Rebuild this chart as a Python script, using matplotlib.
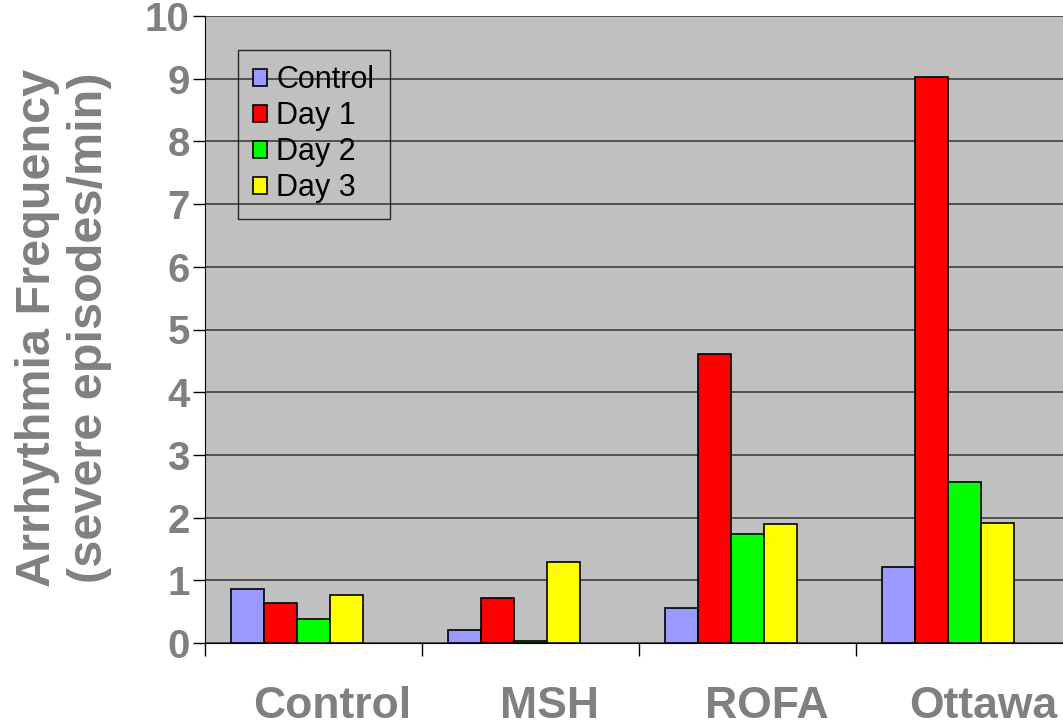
import matplotlib
matplotlib.use("Agg")
import matplotlib.pyplot as plt
import matplotlib.transforms as mtransforms
import numpy as np

categories = ["Control", "MSH", "ROFA", "Ottawa"]
series_names = ["Control", "Day 1", "Day 2", "Day 3"]
control_vals = [0.86, 0.20, 0.56, 1.21]
day1_vals = [0.64, 0.72, 4.61, 9.03]
day2_vals = [0.38, 0.03, 1.74, 2.57]
day3_vals = [0.77, 1.29, 1.89, 1.92]
series_vals = [control_vals, day1_vals, day2_vals, day3_vals]
colors = ["#9999FF", "#FF0000", "#00FF00", "#FFFF00"]
yticks = list(range(0, 11))

plt.rcParams["font.family"] = ["Liberation Sans", "DejaVu Sans"]

W, H = 1063, 725
fig = plt.figure(figsize=(W / 100, H / 100), dpi=100)
ax = fig.add_axes([205 / W, (H - 643) / H, 868 / W, 627 / H])
ax.set_facecolor("#C0C0C0")

n_slots = 5
bw = 0.1525
x = np.arange(len(categories))
for j, (vals, c, name) in enumerate(zip(series_vals, colors, series_names)):
    centers = x + 0.5 + (j - (n_slots - 1) / 2) * bw
    ax.bar(centers, vals, width=bw, color=c, edgecolor="black", linewidth=1.2,
           label=name, zorder=3)

ax.set_xlim(0, len(categories))
ax.set_ylim(0, 10)
ax.set_yticks(yticks)
ax.yaxis.grid(True, color="#333333", linewidth=1.1, zorder=1)
ax.set_axisbelow(True)

for s in ["top", "right"]:
    ax.spines[s].set_visible(False)
ax.spines["left"].set_color("black")
ax.spines["bottom"].set_color("black")

gray = "#808080"
ax.tick_params(axis="y", length=9, width=1, color="black", pad=2,
               labelsize=29, labelcolor=gray)
for lab in ax.get_yticklabels():
    lab.set_fontweight("bold")

# category boundaries as major ticks, labels at centers as minor ticks
ax.set_xticks(np.arange(len(categories) + 1))
ax.set_xticklabels([])
ax.set_xticks(x + 0.5, minor=True)
ax.set_xticklabels(categories, minor=True, fontsize=32, fontweight="bold", color=gray)
ax.tick_params(axis="x", which="major", length=9, width=1, color="black", direction="out")
ax.tick_params(axis="x", which="minor", length=0, pad=31)
offset = mtransforms.ScaledTranslation(19 / 100, 0, fig.dpi_scale_trans)
for lab in ax.get_xticklabels(minor=True):
    lab.set_transform(lab.get_transform() + offset)

leg = ax.legend(loc="upper left", bbox_to_anchor=(0.038, 0.946), borderaxespad=0,
                fontsize=22, frameon=True, fancybox=False, edgecolor="black",
                facecolor="none", handlelength=0.46, handleheight=0.46,
                handletextpad=0.3, labelspacing=0.2, borderpad=0.5)
leg.get_frame().set_linewidth(1.0)

fig.text(64 / W, (H - 328) / H, "Arrhythmia Frequency\n(severe episodes/min)",
         rotation=90, ha="center", va="center", multialignment="center",
         fontsize=35, fontweight="bold", color=gray, linespacing=1.2)

fig.savefig("out.png", dpi=100)
